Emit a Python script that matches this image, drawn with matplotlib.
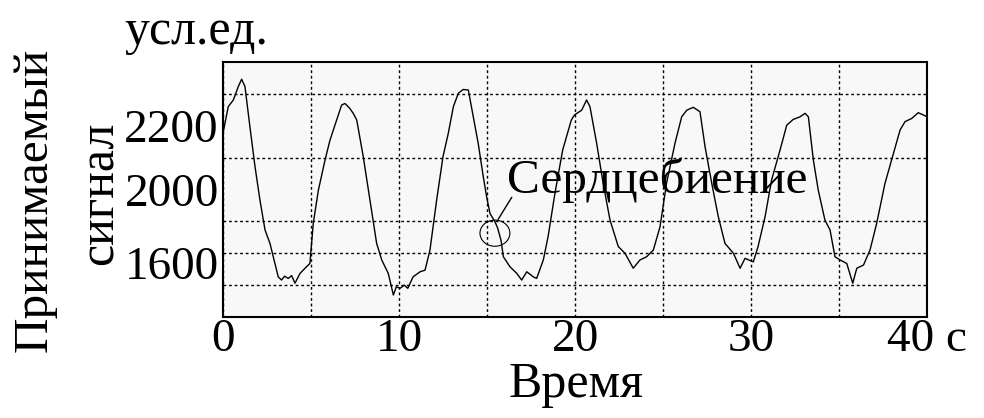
import numpy as np
import matplotlib.pyplot as plt
from matplotlib.patches import Ellipse

plt.rcParams['font.family'] = ['Liberation Serif', 'DejaVu Serif']

# время, с
time_s = [0, 0.3, 0.59, 0.87, 1.06, 1.25, 1.53, 1.82, 2.1, 2.39, 2.67, 2.86, 3.14, 3.33,
          3.5, 3.71, 3.9, 4.09, 4.38, 4.75, 4.94, 5.13, 5.42, 5.8, 6.08, 6.46, 6.74, 6.93,
          7.2, 7.4, 7.6, 7.97, 8.35, 8.73, 9.02, 9.39, 9.68, 9.85, 10.06, 10.3, 10.5, 10.8,
          11.2, 11.48, 11.76, 12.14, 12.5, 12.8, 13.09, 13.37, 13.65, 13.94, 14.22, 14.5,
          14.79, 14.98, 15.17, 15.45, 15.6, 15.8, 15.93, 16.3, 16.69, 16.97, 17.26, 17.63,
          17.82, 18.2, 18.47, 18.86, 19.3, 19.79, 19.97, 20.38, 20.66, 20.85, 21.23, 21.6,
          21.99, 22.46, 22.84, 23.31, 23.69, 24.07, 24.45, 24.83, 25.2, 25.68, 26.06, 26.35,
          26.72, 27.1, 27.39, 27.77, 28.14, 28.52, 29.0, 29.38, 29.66, 30.13, 30.4, 30.8,
          31.17, 31.65, 32.03, 32.4, 32.78, 33.07, 33.26, 33.54, 33.82, 34.2, 34.49, 34.77,
          35.06, 35.44, 35.78, 36.01, 36.39, 36.76, 37.14, 37.61, 38.09, 38.47, 38.75,
          39.13, 39.5, 39.79, 40.0]

# принимаемый сигнал, усл.ед.
signal = [2176, 2260, 2281, 2323, 2346, 2323, 2197, 2072, 1967, 1873, 1831, 1789, 1726, 1716,
          1728, 1721, 1730, 1706, 1737, 1758, 1768, 1894, 1998, 2093, 2155, 2218, 2265, 2270,
          2255, 2239, 2218, 2103, 1967, 1831, 1779, 1737, 1669, 1695, 1690, 1700, 1690, 1726,
          1742, 1747, 1810, 1967, 2103, 2176, 2260, 2302, 2314, 2312, 2228, 2145,
          2040, 1977, 1925, 1899, 1880, 1840, 1789, 1758, 1737, 1716, 1742, 1726,
          1721, 1779, 1852, 1988, 2124, 2218, 2234, 2249, 2281, 2260, 2145, 2019,
          1904, 1821, 1800, 1753, 1779, 1789, 1810, 1883, 2019, 2145, 2228, 2249,
          2258, 2244, 2134, 2019, 1915, 1831, 1800, 1753, 1784, 1773, 1821, 1915,
          2030, 2124, 2202, 2220, 2228, 2239, 2228, 2093, 1998, 1904, 1873, 1789,
          1779, 1768, 1706, 1753, 1763, 1810, 1894, 2019, 2113, 2187, 2213,
          2223, 2241, 2234, 2228]

x_ticks = [0, 10, 20, 30, 40]
x_tick_labels = ['0', '10', '20', '30', '40 с']
y_ticks = [2200, 2000, 1770]
y_tick_labels = ['2200', '2000', '1600']

fig = plt.figure(figsize=(9.84, 4.18), dpi=100)
ax = fig.add_axes([0.2266, 0.2416, 0.7155, 0.610])
ax.set_facecolor('#f8f8f8')

ax.plot(time_s, signal, color='black', lw=1.0)

ax.set_xlim(0, 40)
ax.set_ylim(1600, 2400)

# сетка: по x через 5 с, по y через 100
ax.set_xticks(x_ticks)
ax.set_xticklabels(x_tick_labels)
ax.set_xticks(np.arange(5, 40, 10), minor=True)
ax.set_yticks(y_ticks)
ax.set_yticklabels(y_tick_labels)
ax.set_yticks(np.arange(1700, 2400, 100), minor=True)
ax.tick_params(which='both', length=0, labelsize=34)
ax.tick_params(axis='x', pad=1)
ax.tick_params(axis='y', pad=3)

grid_style = dict(color='black', linestyle=(0, (2, 2)), linewidth=1.0)
ax.xaxis.grid(True, which='both', **grid_style)
ax.yaxis.grid(True, which='minor', **grid_style)

for s in ax.spines.values():
    s.set_linewidth(1.5)

# отметка сердцебиения
ax.add_patch(Ellipse((15.45, 1863), 1.7, 82, fill=False, edgecolor='black', lw=0.8))
ax.plot([15.64, 16.4], [1907, 1975], color='black', lw=1.0)
ax.text(16.15, 1990, 'Сердцебиение', fontsize=35.5, va='baseline', ha='left')

fig.text(0.2, 0.925, 'усл.ед.', fontsize=36, ha='center', va='center')
fig.text(0.0356, 0.5215, 'Принимаемый', fontsize=35.5, rotation=90, ha='center', va='center')
fig.text(0.1016, 0.538, 'сигнал', fontsize=36, rotation=90, ha='center', va='center')
fig.text(0.585, 0.079, 'Время', fontsize=36, ha='center', va='center')

fig.savefig('out.png', dpi=100)
